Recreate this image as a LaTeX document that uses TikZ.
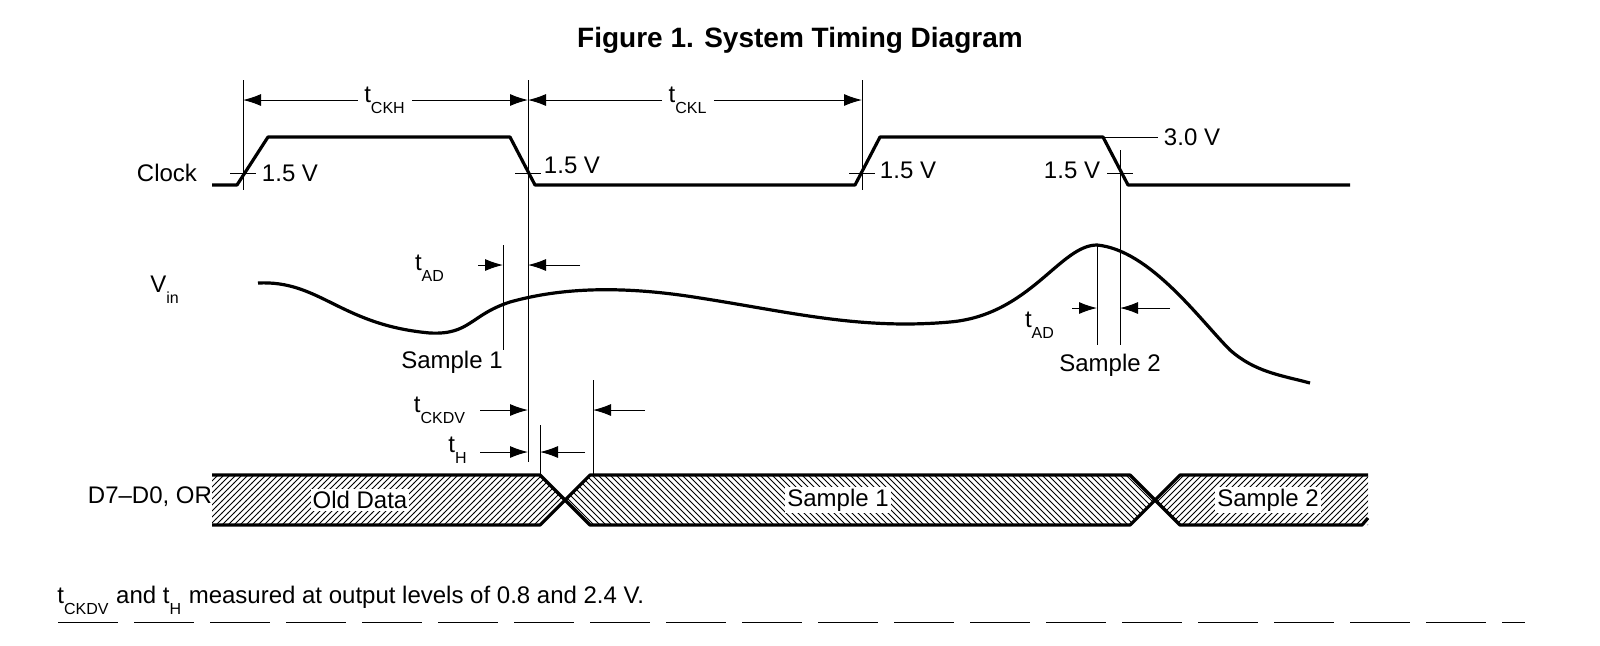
\documentclass[tikz,border=0pt]{standalone}
\usepackage{fontspec}
\setmainfont{Liberation Sans}
\usetikzlibrary{positioning}
\usetikzlibrary{arrows.meta}
\usetikzlibrary{patterns}

\tikzset{
  wave/.style={line width=1.6pt, line join=round},
  guide/.style={line width=0.5pt},
  dim/.style={line width=0.5pt, -{Latex[length=9pt,width=6pt]}},
  lbl/.style={font=\fontsize{12}{14}\selectfont, inner sep=1pt},
  bus/.style={line width=1.6pt, line join=round}
}
\newcommand{\sig}[2]{#1\textsubscript{\raisebox{-0.9ex}{#2}}}

\begin{document}
\begin{tikzpicture}[x=0.5pt, y=-0.5pt]
        \node[font=\bfseries\fontsize{14}{16}\selectfont] (title) at (800,40) {Figure 1. System Timing Diagram};

        % clock
        \node[lbl] (clk) at (167,173) {Clock};
        \draw[wave] (212,185) -- (237,185) -- (268,137) -- (510,137) -- (535,185)
                    -- (855,185) -- (880,137) -- (1103,137) -- (1128,185) -- (1350,185);
        \draw[guide] (243,80) -- (243,190);
        \draw[guide] (528,80) -- (528,462);
        \draw[guide] (862,80) -- (862,190);
        \draw[guide] (1120,150) -- (1120,345);
        \foreach \x in {243, 528, 862} {
            \draw[guide] (\x-13,173) -- (\x+13,173);
        }
        \draw[guide] (1107,173) -- (1133,173);
        \node[lbl] (v1) at (290,173) {1.5 V};
        \node[lbl] (v2) at (572,165) {1.5 V};
        \node[lbl] (v3) at (908,170) {1.5 V};
        \node[lbl] (v4) at (1072,170) {1.5 V};
        \draw[guide] (1103,137) -- (1158,137);
        \node[lbl] (v5) at (1192,137) {3.0 V};

        % clock period dimensions
        \coordinate (a0) at (243,100);
        \coordinate (a1) at (528,100);
        \coordinate (a2) at (862,100);
        \node[lbl, fill=white, inner sep=3pt] (tckh) at (385,100) {\sig{t}{CKH}};
        \node[lbl, fill=white, inner sep=3pt] (tckl) at (688,100) {\sig{t}{CKL}};
        \draw[dim] (tckh) -- (a0);
        \draw[dim] (tckh) -- (a1);
        \draw[dim] (tckl) -- (a1);
        \draw[dim] (tckl) -- (a2);

        % analog input
        \node[lbl] (vin) at (165,290) {\sig{V}{in}};
        \draw[wave] (258,283) .. controls (320,280) and (340,325) .. (430,333)
                    .. controls (470,335) and (470,315) .. (510,302)
                    .. controls (560,288) and (620,285) .. (700,298)
                    .. controls (790,312) and (860,330) .. (950,322)
                    .. controls (1030,315) and (1060,245) .. (1097,245)
                    .. controls (1150,250) and (1200,320) .. (1230,350)
                    .. controls (1255,372) and (1280,375) .. (1310,383);
        \draw[guide] (503,245) -- (503,350);
        \draw[guide] (1097,245) -- (1097,345);
        \node[lbl] (s1) at (452,362) {Sample 1};
        \node[lbl] (s2) at (1110,365) {Sample 2};
        \node[lbl] (tad1) at (430,268) {\sig{t}{AD}};
        \node[lbl] (tad2) at (1040,325) {\sig{t}{AD}};
        \coordinate (b0) at (503,265);
        \coordinate (b1) at (528,265);
        \coordinate (b2) at (478,265);
        \coordinate (b3) at (580,265);
        \draw[dim] (b2) -- (b0);
        \draw[dim] (b3) -- (b1);
        \coordinate (c0) at (1097,308);
        \coordinate (c1) at (1120,308);
        \coordinate (c2) at (1072,308);
        \coordinate (c3) at (1170,308);
        \draw[dim] (c2) -- (c0);
        \draw[dim] (c3) -- (c1);

        % output delays
        \draw[guide] (593,380) -- (593,475);
        \draw[guide] (540,425) -- (540,475);
        \node[lbl] (tckdv) at (440,410) {\sig{t}{CKDV}};
        \node[lbl] (th) at (458,450) {\sig{t}{H}};
        \coordinate (d0) at (528,410);
        \coordinate (d1) at (593,410);
        \coordinate (d2) at (645,410);
        \coordinate (d3) at (480,410);
        \coordinate (e0) at (528,452);
        \coordinate (e1) at (540,452);
        \coordinate (e2) at (585,452);
        \coordinate (e3) at (480,452);
        \draw[dim] (d3) -- (d0);
        \draw[dim] (d2) -- (d1);
        \draw[dim] (e3) -- (e0);
        \draw[dim] (e2) -- (e1);

        % data bus
        \node[lbl] (bus) at (150,497) {D7–D0, OR};
        \fill[pattern=north east lines] (212,475) -- (540,475) -- (565,500) -- (540,525) -- (212,525) -- cycle;
        \fill[pattern=north west lines] (590,475) -- (1130,475) -- (1155,500) -- (1130,525) -- (590,525) -- (565,500) -- cycle;
        \fill[pattern=north east lines] (1180,475) -- (1368,475) -- (1368,525) -- (1180,525) -- (1155,500) -- cycle;
        \draw[bus] (212,475) -- (540,475) -- (565,500) -- (590,525) -- (1130,525) -- (1155,500) -- (1180,475) -- (1368,475);
        \draw[bus] (212,525) -- (540,525) -- (565,500) -- (590,475) -- (1130,475) -- (1155,500) -- (1180,525) -- (1362,525) -- (1368,518);
        \node[lbl, fill=white] (old) at (360,500) {Old Data};
        \node[lbl, fill=white] (d1l) at (838,500) {Sample 1};
        \node[lbl, fill=white] (d2l) at (1268,500) {Sample 2};

        % note
        \node[lbl, anchor=west] (note) at (55,600) {\sig{t}{CKDV} and \sig{t}{H} measured at output levels of 0.8 and 2.4 V.};
        \draw[guide, dash pattern=on 30pt off 8pt] (58,622) -- (1525,622);

        \pgfresetboundingbox
        \useasboundingbox (0,0) rectangle (1600,645);
    \end{tikzpicture}
\end{document}
